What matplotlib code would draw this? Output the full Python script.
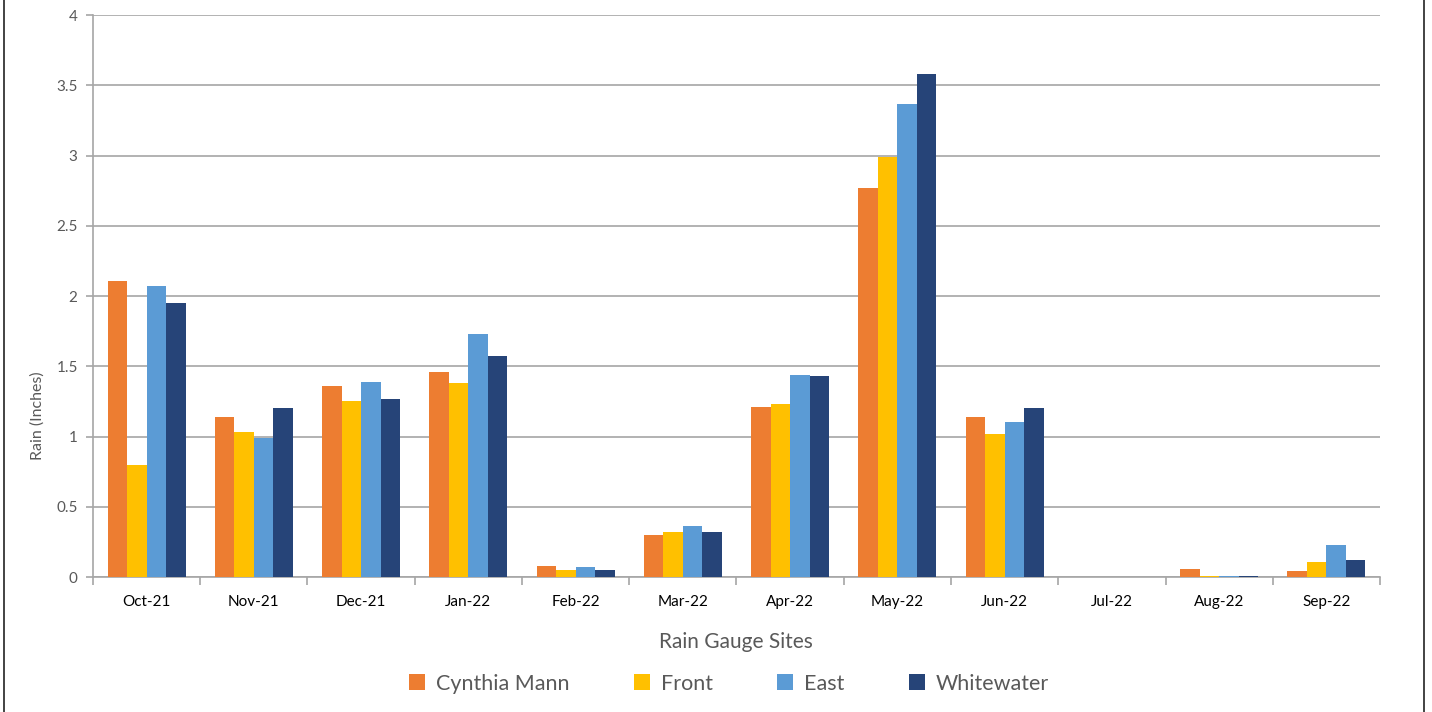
import matplotlib

matplotlib.use("Agg")
import matplotlib.pyplot as plt
import numpy as np
from matplotlib.lines import Line2D

plt.rcParams["font.family"] = ["Lato", "DejaVu Sans"]

# Monthly rainfall (inches) per gauge site, water year Oct-21 .. Sep-22
months = ["Oct-21", "Nov-21", "Dec-21", "Jan-22", "Feb-22", "Mar-22",
          "Apr-22", "May-22", "Jun-22", "Jul-22", "Aug-22", "Sep-22"]
cynthia_mann = [2.11, 1.14, 1.36, 1.46, 0.08, 0.30, 1.21, 2.77, 1.14, 0.0, 0.06, 0.04]
front = [0.80, 1.03, 1.25, 1.38, 0.05, 0.32, 1.23, 2.99, 1.02, 0.0, 0.01, 0.11]
east = [2.07, 0.99, 1.39, 1.73, 0.07, 0.36, 1.44, 3.37, 1.10, 0.0, 0.01, 0.23]
whitewater = [1.95, 1.20, 1.27, 1.57, 0.05, 0.32, 1.43, 3.58, 1.20, 0.0, 0.01, 0.12]

sites = ["Cynthia Mann", "Front", "East", "Whitewater"]
series = [cynthia_mann, front, east, whitewater]
colors = ["#ED7D31", "#FFC000", "#5B9BD5", "#264478"]

GRID = "#a6a6a6"
TEXT = "#595959"

fig = plt.figure(figsize=(14.32, 7.12), dpi=100)
ax = fig.add_axes([0.0649, 0.1896, 0.8988, 0.7893])

x = np.arange(len(months))
width = 1 / 5.5  # four bars + 150% gap
for i, (name, vals, c) in enumerate(zip(sites, series, colors)):
    ax.bar(x + (i - 1.5) * width, vals, width, color=c, label=name,
           edgecolor="none", zorder=3)

ax.set_xlim(-0.5, len(months) - 0.5)
ax.set_ylim(0, 4)
ax.set_yticks(np.arange(0, 4.01, 0.5))
ax.set_yticklabels(["0", "0.5", "1", "1.5", "2", "2.5", "3", "3.5", "4"])
ax.yaxis.grid(True, color=GRID, linewidth=1.2, zorder=0)

# category ticks sit between the month groups
ax.set_xticks(x)
ax.set_xticklabels(months)
ax.set_xticks(np.arange(-0.5, len(months)), minor=True)
ax.tick_params(axis="x", which="major", length=0, pad=13, labelsize=11,
               labelcolor="black")
ax.tick_params(axis="x", which="minor", length=6, color=GRID, width=1.2)
ax.tick_params(axis="y", length=5, color=GRID, width=1.2, labelsize=11,
               labelcolor=TEXT, pad=6)

for side in ("top", "right"):
    ax.spines[side].set_visible(False)
for side in ("left", "bottom"):
    ax.spines[side].set_color(GRID)
    ax.spines[side].set_linewidth(1.2)

fig.text(0.026, 0.416, "Rain (Inches)", rotation=90, ha="center", va="center",
         fontsize=11.5, color=TEXT)
fig.text(0.514, 0.098, "Rain Gauge Sites", ha="center", va="center",
         fontsize=15, color=TEXT)

fig.legend(loc="center", bbox_to_anchor=(0.509, 0.040), ncol=4, frameon=False,
           fontsize=15.5, labelcolor=TEXT, handlelength=0.75, handleheight=0.75,
           handletextpad=0.5, columnspacing=3.0)

# thin frame lines down both sides of the canvas
fig.add_artist(Line2D([0.0028, 0.0028], [0, 1], transform=fig.transFigure,
                      color="#222222", linewidth=1.2))
fig.add_artist(Line2D([0.9944, 0.9944], [0, 1], transform=fig.transFigure,
                      color="#222222", linewidth=1.2))

fig.savefig("out.png", dpi=100, facecolor="white")
